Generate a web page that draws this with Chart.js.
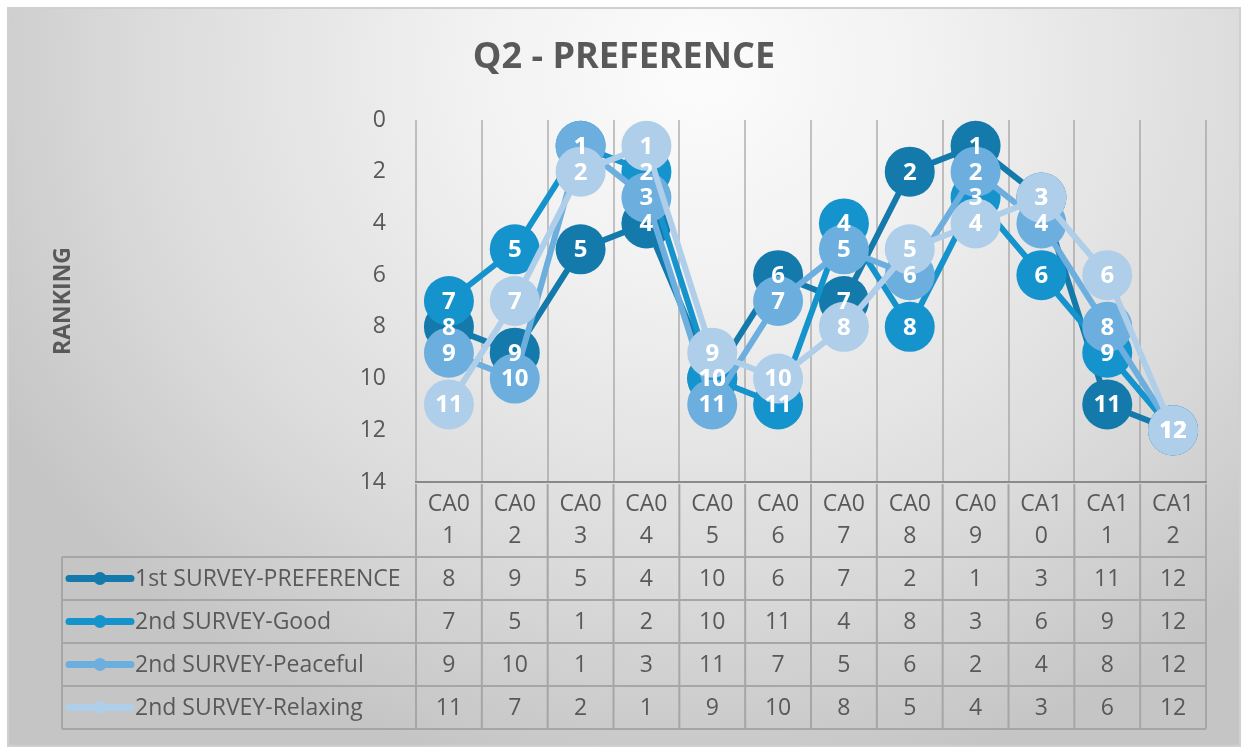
<!DOCTYPE html>
<html lang="en">
<head>
  <meta charset="UTF-8">
  <title>Q2 - PREFERENCE</title>
  <script src="https://cdn.jsdelivr.net/npm/chart.js"></script>
  <style>
    body { margin: 0; background: #fff; }
    canvas { display: block; }
  </style>
</head>
<body>

<canvas id="chart" width="1248" height="754"></canvas>

<script>
const categories = ['CA01', 'CA02', 'CA03', 'CA04', 'CA05', 'CA06', 'CA07', 'CA08', 'CA09', 'CA10', 'CA11', 'CA12'];
const seriesNames = ['1st SURVEY-PREFERENCE', '2nd SURVEY-Good', '2nd SURVEY-Peaceful', '2nd SURVEY-Relaxing'];
const pref1st = [8, 9, 5, 4, 10, 6, 7, 2, 1, 3, 11, 12];
const good2nd = [7, 5, 1, 2, 10, 11, 4, 8, 3, 6, 9, 12];
const peaceful2nd = [9, 10, 1, 3, 11, 7, 5, 6, 2, 4, 8, 12];
const relaxing2nd = [11, 7, 2, 1, 9, 10, 8, 5, 4, 3, 6, 12];
const seriesColors = ['#1479ab', '#1593cd', '#6cafdf', '#afcee9'];
const yTicks = [0, 2, 4, 6, 8, 10, 12, 14];

const FONT = "'Open Sans', sans-serif";
const TEXT = '#595959';
const allSeries = [pref1st, good2nd, peaceful2nd, relaxing2nd];

// background box + title
const backdrop = {
  id: 'backdrop',
  beforeDraw(chart) {
    const ctx = chart.ctx;
    ctx.save();
    ctx.fillStyle = '#fff';
    ctx.fillRect(0, 0, chart.width, chart.height);
    ctx.save();
    ctx.beginPath();
    ctx.rect(8, 8, 1232, 738);
    ctx.clip();
    ctx.translate(700, 70);
    ctx.scale(1, 0.9);
    const g = ctx.createRadialGradient(0, 0, 0, 0, 0, 800);
    g.addColorStop(0, '#fcfcfc');
    g.addColorStop(0.3, '#f1f1f1');
    g.addColorStop(0.7, '#dbdbdb');
    g.addColorStop(1, '#c5c5c5');
    ctx.fillStyle = g;
    ctx.fillRect(-800, -200, 1700, 1000);
    ctx.restore();
    ctx.strokeStyle = '#d0d0d0';
    ctx.lineWidth = 2;
    ctx.strokeRect(8, 8, 1232, 738);

    ctx.fillStyle = TEXT;
    ctx.font = "bold 36px " + FONT;
    ctx.textAlign = 'center';
    ctx.textBaseline = 'middle';
    ctx.fillText('Q2 - PREFERENCE', 624, 58);
    ctx.restore();
  }
};

// white value labels, drawn after every series like Excel does
const valueLabels = {
  id: 'valueLabels',
  afterDatasetsDraw(chart) {
    const ctx = chart.ctx;
    ctx.save();
    ctx.fillStyle = '#fff';
    ctx.font = "bold 24px " + FONT;
    ctx.textAlign = 'center';
    ctx.textBaseline = 'middle';
    chart.data.datasets.forEach((ds, i) => {
      const meta = chart.getDatasetMeta(i);
      meta.data.forEach((pt, j) => {
        ctx.fillText(String(ds.data[j]), pt.x, pt.y + 1);
      });
    });
    ctx.restore();
  }
};

// data table under the axis
const dataTable = {
  id: 'dataTable',
  afterDraw(chart) {
    const ctx = chart.ctx;
    const xs = chart.scales.x;
    const area = chart.chartArea;
    const headTop = area.bottom;
    const rowTops = [557, 600, 643, 686, 729];
    const tableLeft = 62;
    const bounds = [area.left];
    for (let i = 0; i < categories.length - 1; i++) {
      bounds.push((xs.getPixelForValue(i) + xs.getPixelForValue(i + 1)) / 2);
    }
    bounds.push(area.right);

    ctx.save();
    ctx.strokeStyle = '#a6a6a6';
    ctx.lineWidth = 2;
    ctx.beginPath();
    bounds.forEach(x => {
      ctx.moveTo(x, headTop + 2);
      ctx.lineTo(x, rowTops[rowTops.length - 1]);
    });
    ctx.moveTo(tableLeft, rowTops[0]);
    ctx.lineTo(tableLeft, rowTops[rowTops.length - 1]);
    rowTops.forEach(y => {
      ctx.moveTo(tableLeft, y);
      ctx.lineTo(area.right, y);
    });
    ctx.stroke();

    ctx.font = "23px " + FONT;
    ctx.textBaseline = 'middle';
    allSeries.forEach((vals, r) => {
      const cy = (rowTops[r] + rowTops[r + 1]) / 2;
      // legend key
      ctx.strokeStyle = seriesColors[r];
      ctx.lineWidth = 7;
      ctx.lineCap = 'round';
      ctx.beginPath();
      ctx.moveTo(69, cy);
      ctx.lineTo(131, cy);
      ctx.stroke();
      ctx.fillStyle = seriesColors[r];
      ctx.beginPath();
      ctx.arc(100, cy, 6.5, 0, Math.PI * 2);
      ctx.fill();

      ctx.fillStyle = TEXT;
      ctx.textAlign = 'left';
      ctx.fillText(seriesNames[r], 135, cy + 1);
      ctx.textAlign = 'center';
      vals.forEach((v, j) => {
        ctx.fillText(String(v), xs.getPixelForValue(j), cy + 1);
      });
    });
    ctx.restore();
  }
};

const datasets = allSeries.map((vals, i) => ({
  label: seriesNames[i],
  data: vals,
  borderColor: seriesColors[i],
  backgroundColor: seriesColors[i],
  borderWidth: 6,
  pointRadius: 25,
  pointHoverRadius: 25,
  pointBorderWidth: 0,
  tension: 0,
  order: allSeries.length - i
}));

new Chart(document.getElementById('chart'), {
  type: 'line',
  data: { labels: categories, datasets: datasets },
  plugins: [backdrop, valueLabels, dataTable],
  options: {
    responsive: false,
    animation: false,
    layout: { padding: { left: 0, top: 120, right: 42, bottom: 197 } },
    plugins: {
      legend: { display: false },
      title: { display: false },
      tooltip: { enabled: false }
    },
    scales: {
      x: {
        offset: true,
        grid: { offset: true, color: 'rgba(150,150,150,0.55)', lineWidth: 2, drawTicks: false },
        border: { display: true, color: '#8a8a8a', width: 2 },
        ticks: {
          color: TEXT,
          font: { family: FONT, size: 23, lineHeight: 1.39 },
          padding: 6,
          maxRotation: 0,
          autoSkip: false,
          callback: (v, i) => [categories[i].slice(0, 3), categories[i].slice(3)]
        },
        afterFit: s => { s.height = 75; }
      },
      y: {
        reverse: true,
        min: 0,
        max: 14,
        grid: { display: false },
        border: { display: false },
        afterBuildTicks: s => { s.ticks = yTicks.map(v => ({ value: v })); },
        ticks: { color: TEXT, font: { family: FONT, size: 23 }, padding: 22 },
        title: {
          display: true,
          text: 'RANKING',
          color: TEXT,
          font: { family: FONT, size: 23, weight: 'bold' },
          padding: { top: 50, bottom: 0 }
        },
        afterFit: s => { s.width = 416; }
      }
    }
  }
});
</script>

</body>
</html>
